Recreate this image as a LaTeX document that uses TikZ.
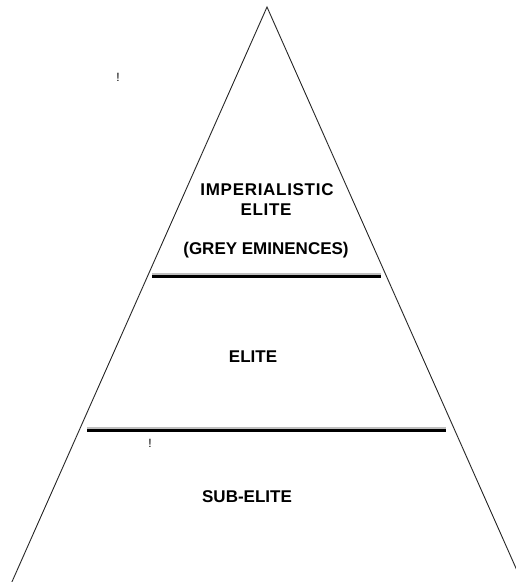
\documentclass[tikz,border=0pt]{standalone}
\usepackage{fontspec}
\setmainfont{Liberation Sans}
\begin{document}
\begin{tikzpicture}[x=1pt,y=-1pt,
  side/.style={line width=0.9pt,black!85},
  divider/.style={line width=3pt,black},
  shade/.style={line width=3pt,black!25},
  lbl/.style={font=\fontsize{17}{20}\selectfont\bfseries,align=center,inner sep=0pt},
  bang/.style={font=\fontsize{12}{14}\selectfont,inner sep=0pt}]
\useasboundingbox (0,0) rectangle (516,582);
\clip (0,0) rectangle (516,582);
\coordinate (apex) at (267,7);
\coordinate (bl) at (11,584);
\coordinate (br) at (523,584);
\draw[side] (bl) -- (apex) -- (br);
\coordinate (u1) at (152,276);
\coordinate (u2) at (381,276);
\coordinate (l1) at (87,430);
\coordinate (l2) at (446,430);
\draw[shade] ([yshift=1.2pt]u1) -- ([yshift=1.2pt]u2);
\draw[shade] ([yshift=1.2pt]l1) -- ([yshift=1.2pt]l2);
\draw[divider] (u1) -- (u2);
\draw[divider] (l1) -- (l2);
\node[lbl] (t1) at (267,190) {I\kern0.7pt M\kern0.7pt P\kern0.7pt E\kern0.7pt R\kern0.7pt I\kern0.7pt A\kern0.7pt L\kern0.7pt I\kern0.7pt S\kern0.7pt T\kern0.7pt I\kern0.7pt C};
\node[lbl] (t2) at (266,210) {E\kern0.7pt L\kern0.7pt I\kern0.7pt T\kern0.7pt E};
\node[lbl] (t3) at (266,250) {(GREY EMINENCES)};
\node[lbl] (t4) at (253,357) {ELITE};
\node[lbl] (t5) at (247,497) {SUB-ELITE};
\node[bang] (m1) at (118,77) {!};
\node[bang] (m2) at (150,443) {!};
\end{tikzpicture}
\end{document}
